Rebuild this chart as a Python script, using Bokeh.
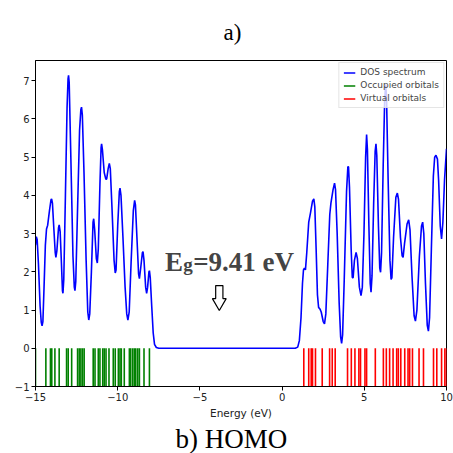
from bokeh.plotting import figure
from bokeh.models import Range1d, FixedTicker, Label, Legend, LegendItem, ColumnDataSource, Title
from bokeh.embed import file_html
from bokeh.resources import INLINE

# ---------------- data ----------------
dos_energy = [
    -15.0, -14.95, -14.90, -14.82, -14.72, -14.65, -14.60, -14.55, -14.48, -14.40,
    -14.33, -14.26, -14.15, -14.06, -14.02, -13.97, -13.88, -13.80, -13.76, -13.70,
    -13.60, -13.56, -13.50, -13.42, -13.36, -13.33, -13.28, -13.18, -13.08, -13.02,
    -12.99, -12.95, -12.85, -12.72, -12.64, -12.60, -12.55, -12.45, -12.32, -12.24,
    -12.20, -12.15, -12.05, -11.92, -11.82, -11.76, -11.70, -11.60, -11.50, -11.46,
    -11.40, -11.30, -11.24, -11.18, -11.08, -11.01, -10.98, -10.93, -10.82, -10.72,
    -10.67, -10.58, -10.51, -10.45, -10.35, -10.22, -10.15, -10.10, -10.00, -9.90,
    -9.86, -9.80, -9.68, -9.55, -9.45, -9.38, -9.30, -9.18, -9.05, -8.97,
    -8.92, -8.82, -8.73, -8.68, -8.60, -8.50, -8.46, -8.40, -8.30, -8.24,
    -8.18, -8.10, -8.07, -8.02, -7.93, -7.84, -7.76, -7.65, -7.50,
    0.80, 0.95, 1.05, 1.15, 1.24, 1.30, 1.36, 1.42, 1.50, 1.62,
    1.73, 1.85, 1.93, 1.99, 2.07, 2.15, 2.22, 2.30, 2.38, 2.50,
    2.58, 2.66, 2.78, 2.90, 2.97, 3.10, 3.19, 3.25, 3.35, 3.47,
    3.56, 3.62, 3.68, 3.78, 3.92, 4.00, 4.04, 4.10, 4.20, 4.27,
    4.32, 4.40, 4.50, 4.58, 4.70, 4.80, 4.88, 4.98, 5.08, 5.14,
    5.19, 5.28, 5.36, 5.41, 5.47, 5.57, 5.66, 5.71, 5.76, 5.86,
    5.94, 5.99, 6.05, 6.15, 6.24, 6.30, 6.35, 6.45, 6.56, 6.63,
    6.68, 6.78, 6.92, 7.01, 7.08, 7.20, 7.30, 7.36, 7.45, 7.60,
    7.70, 7.78, 7.90, 8.03, 8.11, 8.20, 8.35, 8.48, 8.55, 8.62,
    8.72, 8.83, 8.90, 8.97, 9.08, 9.20, 9.28, 9.36, 9.45, 9.52,
    9.62, 9.70, 9.78, 9.88, 10.0]
dos_value = [
    2.70, 2.92, 2.85, 2.20, 1.10, 0.68, 0.59, 0.70, 1.60, 2.70,
    3.12, 3.22, 3.60, 3.88, 3.91, 3.80, 3.10, 2.50, 2.38, 2.55,
    3.15, 3.23, 3.05, 2.20, 1.50, 1.44, 1.80, 4.00, 6.30, 7.05,
    7.14, 6.95, 5.00, 2.40, 1.60, 1.51, 1.75, 3.50, 5.70, 6.25,
    6.31, 6.10, 4.60, 2.30, 0.95, 0.74, 0.90, 2.00, 3.30, 3.39,
    3.10, 2.35, 2.23, 2.60, 4.30, 5.25, 5.35, 5.20, 4.60, 4.42,
    4.43, 4.70, 4.84, 4.70, 3.70, 2.30, 1.97, 2.05, 3.20, 4.10,
    4.19, 4.00, 2.90, 1.60, 0.90, 0.74, 0.95, 2.30, 3.60, 3.87,
    3.75, 2.80, 1.95, 1.82, 2.10, 2.50, 2.53, 2.30, 1.60, 1.44,
    1.60, 2.00, 2.03, 1.85, 1.10, 0.40, 0.10, 0.02, 0.00,
    0.00, 0.03, 0.20, 0.80, 1.70, 2.05, 2.10, 2.05, 2.50, 3.30,
    3.55, 3.85, 3.91, 3.70, 2.60, 1.40, 1.07, 1.03, 0.95, 0.70,
    0.64, 0.90, 2.20, 3.50, 3.80, 4.15, 4.32, 4.15, 3.00, 1.20,
    0.30, 0.13, 0.35, 1.80, 4.10, 4.75, 4.75, 4.20, 2.60, 1.85,
    1.85, 2.30, 2.51, 2.35, 1.60, 1.38, 1.60, 3.00, 5.00, 5.59,
    5.20, 3.20, 1.70, 1.47, 1.90, 3.80, 5.15, 5.35, 5.05, 3.20,
    2.10, 1.99, 2.50, 4.80, 6.50, 6.90, 6.60, 4.40, 2.30, 1.80,
    1.85, 2.90, 3.95, 4.06, 3.90, 2.90, 2.42, 2.38, 2.75, 3.25,
    3.36, 3.10, 1.90, 0.85, 0.71, 1.00, 2.40, 3.20, 3.30, 3.00,
    1.70, 0.60, 0.45, 0.80, 2.60, 4.50, 5.00, 5.05, 4.95, 4.40,
    3.20, 2.86, 3.30, 4.40, 5.22]

occupied_energy = [-15.0, -14.37, -14.09, -14.01, -13.82, -13.56, -13.11, -13.01, -12.80,
                   -12.44, -12.34, -12.24, -12.14, -12.04, -11.49, -11.38, -11.18, -11.08,
                   -10.91, -10.82, -10.71, -10.53, -10.27, -10.15, -9.96, -9.86, -9.78,
                   -9.60, -9.29, -9.21, -9.09, -8.99, -8.90, -8.78, -8.68, -8.40, -8.07]
virtual_energy = [1.32, 1.62, 1.77, 1.85, 2.03, 2.44, 2.89, 3.05, 3.23, 3.98, 4.21, 4.43,
                  4.67, 4.77, 5.04, 5.14, 5.67, 6.16, 6.34, 6.54, 6.75, 6.97, 7.07, 7.22,
                  7.46, 7.66, 7.76, 7.93, 8.33, 8.60, 9.21, 9.41, 9.70, 9.90, 10.0]
bar_bottom = -1.0
bar_top = 0.0

x_ticks = [-15, -10, -5, 0, 5, 10]
y_ticks = [-1, 0, 1, 2, 3, 4, 5, 6, 7]

gap_text = "=9.41 eV"
arrow_x, arrow_top, arrow_neck, arrow_tip = -3.82, 1.64, 1.30, 0.99
arrow_shaft_hw, arrow_head_hw = 0.22, 0.42

# ---------------- figure ----------------
p = figure(width=453, height=453, output_backend="svg", toolbar_location=None,
           x_range=Range1d(-15, 10), y_range=Range1d(-1, 7.53),
           min_border_left=35, min_border_right=7, min_border_top=60, min_border_bottom=67,
           background_fill_color="white", border_fill_color="white")

p.xgrid.visible = False
p.ygrid.visible = False
p.outline_line_color = "black"
p.outline_line_width = 1

def minus(v):
    return str(v).replace("-", "\u2212")

p.xaxis.ticker = FixedTicker(ticks=x_ticks)
p.yaxis.ticker = FixedTicker(ticks=y_ticks)
p.xaxis.major_label_overrides = {t: minus(t) for t in x_ticks}
p.yaxis.major_label_overrides = {t: minus(t) for t in y_ticks}
for ax in (p.xaxis, p.yaxis):
    ax.major_tick_in = 0
    ax.major_tick_out = 4
    ax.minor_tick_out = 0
    ax.minor_tick_in = 0
    ax.axis_line_color = "black"
    ax.major_tick_line_color = "black"
    ax.major_label_text_font = "DejaVu Sans"
    ax.major_label_text_font_size = "10px"
    ax.major_label_text_color = "#222222"
    ax.major_label_standoff = 2
p.xaxis.axis_label = "Energy (eV)"
p.xaxis.axis_label_text_font = "DejaVu Sans"
p.xaxis.axis_label_text_font_size = "10.5px"
p.xaxis.axis_label_text_font_style = "normal"
p.xaxis.axis_label_text_color = "#222222"
p.xaxis.axis_label_standoff = 3

r_dos = p.line(dos_energy, dos_value, line_color="#0000ff", line_width=1.6)

occ = ColumnDataSource(dict(e=occupied_energy,
                            y0=[bar_bottom] * len(occupied_energy),
                            y1=[bar_top] * len(occupied_energy)))
vir = ColumnDataSource(dict(e=virtual_energy,
                            y0=[bar_bottom] * len(virtual_energy),
                            y1=[bar_top] * len(virtual_energy)))
r_occ = p.segment(x0="e", y0="y0", x1="e", y1="y1", source=occ, line_color="#008000", line_width=1.6)
r_vir = p.segment(x0="e", y0="y0", x1="e", y1="y1", source=vir, line_color="#ff0000", line_width=1.6)

legend = Legend(items=[LegendItem(label="DOS spectrum", renderers=[r_dos]),
                       LegendItem(label="Occupied orbitals", renderers=[r_occ]),
                       LegendItem(label="Virtual orbitals", renderers=[r_vir])],
                location="top_right", margin=2, padding=4, spacing=3,
                label_height=9, glyph_height=9, glyph_width=12, label_standoff=5,
                label_text_font="DejaVu Sans", label_text_font_size="9px",
                border_line_color="#cccccc", background_fill_alpha=0.8)
p.add_layout(legend)

# gap annotation
p.add_layout(Label(x=-7.12, y=2.25, text="E", text_font="Liberation Serif",
                   text_font_size="27px", text_font_style="bold", text_align="left",
                   text_baseline="alphabetic"))
p.add_layout(Label(x=-6.02, y=2.20, text="g", text_font="Liberation Serif",
                   text_font_size="19px", text_font_style="bold", text_align="left",
                   text_baseline="alphabetic"))
p.add_layout(Label(x=-5.41, y=2.25, text=gap_text, text_font="Liberation Serif",
                   text_font_size="27px", text_font_style="bold", text_align="left",
                   text_baseline="alphabetic"))

xs = [arrow_x - arrow_shaft_hw, arrow_x + arrow_shaft_hw, arrow_x + arrow_shaft_hw,
      arrow_x + arrow_head_hw, arrow_x, arrow_x - arrow_head_hw, arrow_x - arrow_shaft_hw]
ys = [arrow_top, arrow_top, arrow_neck, arrow_neck, arrow_tip, arrow_neck, arrow_neck]
p.patch(xs, ys, fill_color="white", line_color="black", line_width=1.2)

# panel captions
p.add_layout(Title(text="a)", align="left", offset=188, standoff=32,
                   text_font="Liberation Serif", text_font_size="23px",
                   text_font_style="normal", text_color="black"), "above")
p.add_layout(Title(text="b) HOMO", align="left", offset=140, standoff=0,
                   text_font="Liberation Serif", text_font_size="27px",
                   text_font_style="normal", text_color="black"), "below")

open("out.html", "w").write(file_html(p, INLINE))
